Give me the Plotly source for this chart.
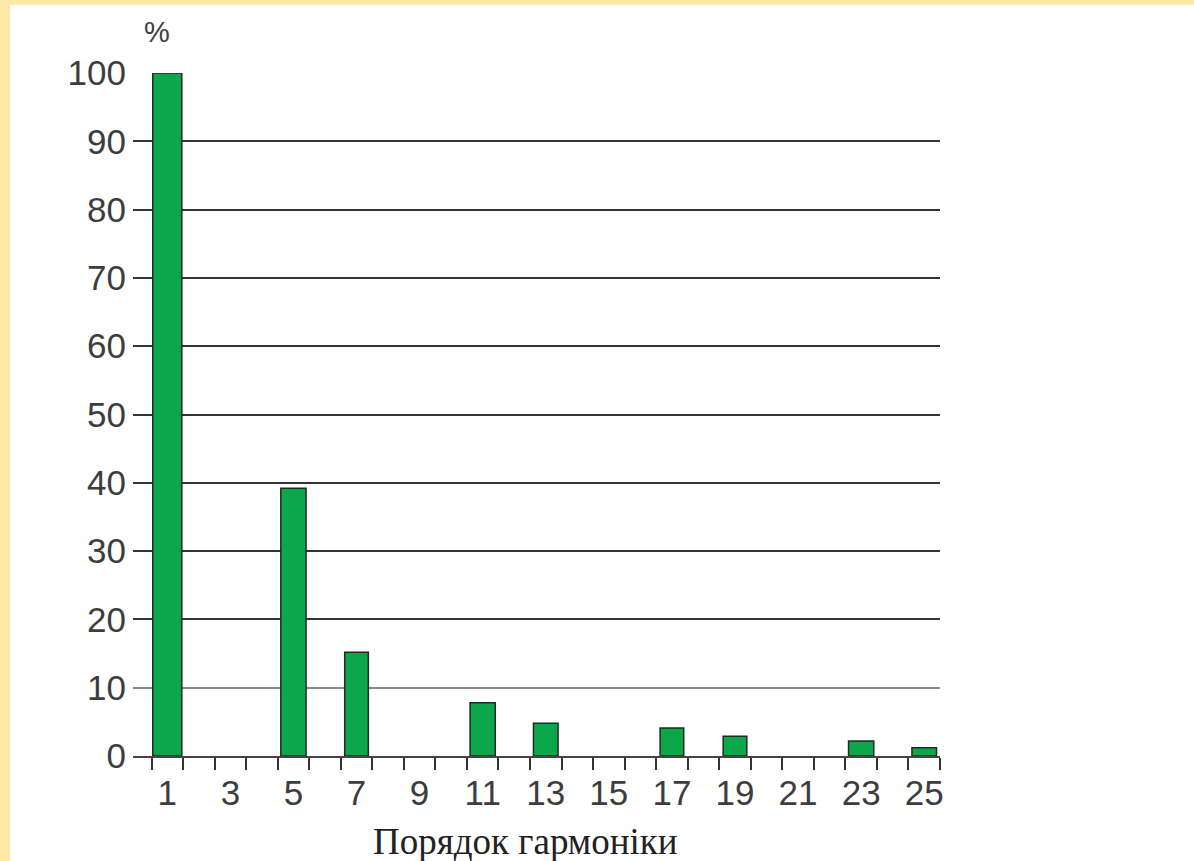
import plotly.graph_objects as go

# harmonic spectrum, % of the fundamental
harmonics = [1, 5, 7, 11, 13, 17, 19, 23, 25]
values = [100, 39.2, 15.2, 7.8, 4.8, 4.1, 2.9, 2.2, 1.2]
x_labels = [1, 3, 5, 7, 9, 11, 13, 15, 17, 19, 21, 23, 25]
y_ticks = [0, 10, 20, 30, 40, 50, 60, 70, 80, 90, 100]

bar_widths = [0.92, 0.8, 0.75, 0.8, 0.78, 0.75, 0.75, 0.8, 0.78]

fig = go.Figure()
# invisible trace so the main y axis (dark grid) gets drawn
fig.add_trace(go.Scatter(x=harmonics, y=values, mode='none', hoverinfo='skip'))
# bars sit on the overlay axis that carries the lighter 10% line
fig.add_trace(go.Bar(x=harmonics, y=values, width=bar_widths, yaxis='y2',
                     marker=dict(color='#0ca64b', line=dict(color='#1e2a22', width=1.5))))

# ticks sit between harmonics
minor_ticks = [h + 0.5 for h in range(0, max(x_labels) + 1)]
dark_ticks = [v for v in y_ticks if v != 10]
light_ticks = [v for v in y_ticks if v == 10]

tick_font = dict(size=35, color='#3d3d3d')
fig.update_layout(
    width=1194, height=861,
    paper_bgcolor='#fde8a8', plot_bgcolor='white',
    margin=dict(l=133, r=254, t=73, b=105),
    showlegend=False,
    font=dict(family='Liberation Sans, Arial', color='#3d3d3d'),
    xaxis=dict(range=[-0.087, 25.5], tickmode='array', tickvals=x_labels,
               ticks='outside', ticklen=5, tickcolor='rgba(0,0,0,0)',
               tickfont=tick_font,
               showgrid=False, zeroline=False,
               showline=True, linecolor='#444', linewidth=2,
               minor=dict(tickmode='array', tickvals=minor_ticks, ticks='outside',
                          ticklen=12, tickwidth=2, tickcolor='#333')),
    yaxis=dict(range=[0, 100], tickmode='array', tickvals=dark_ticks, ticks='',
               tickfont=tick_font, ticklabelstandoff=6,
               showgrid=True, gridcolor='#333', gridwidth=2, zeroline=False),
    yaxis2=dict(range=[0, 100], overlaying='y', side='left', anchor='x',
                tickmode='array', tickvals=light_ticks, ticks='',
                tickfont=tick_font, ticklabelstandoff=6,
                showgrid=True, gridcolor='#8a8a8a', gridwidth=2, zeroline=False),
)

# white sheet behind the chart, slide border shows on top/left
fig.add_shape(type='rect', xref='paper', yref='paper', x0=-0.1524, x1=1.4,
              y0=-0.3, y1=1.0996, fillcolor='white', line=dict(width=0), layer='below')

fig.add_annotation(text='%', xref='paper', yref='paper', x=0.0297, y=1.06,
                   xanchor='center', yanchor='middle',
                   showarrow=False, font=dict(size=29, color='#3d3d3d'))
fig.add_annotation(text='Порядок гармоніки', xref='paper', yref='paper', x=0.486, y=-0.125,
                   xanchor='center', yanchor='middle',
                   showarrow=False, font=dict(family='Liberation Serif, Times New Roman', size=37, color='#222'))

fig.write_html("out.html", config={'displayModeBar': False},
               post_script="document.body.style.margin='0';document.body.style.overflow='hidden';")
